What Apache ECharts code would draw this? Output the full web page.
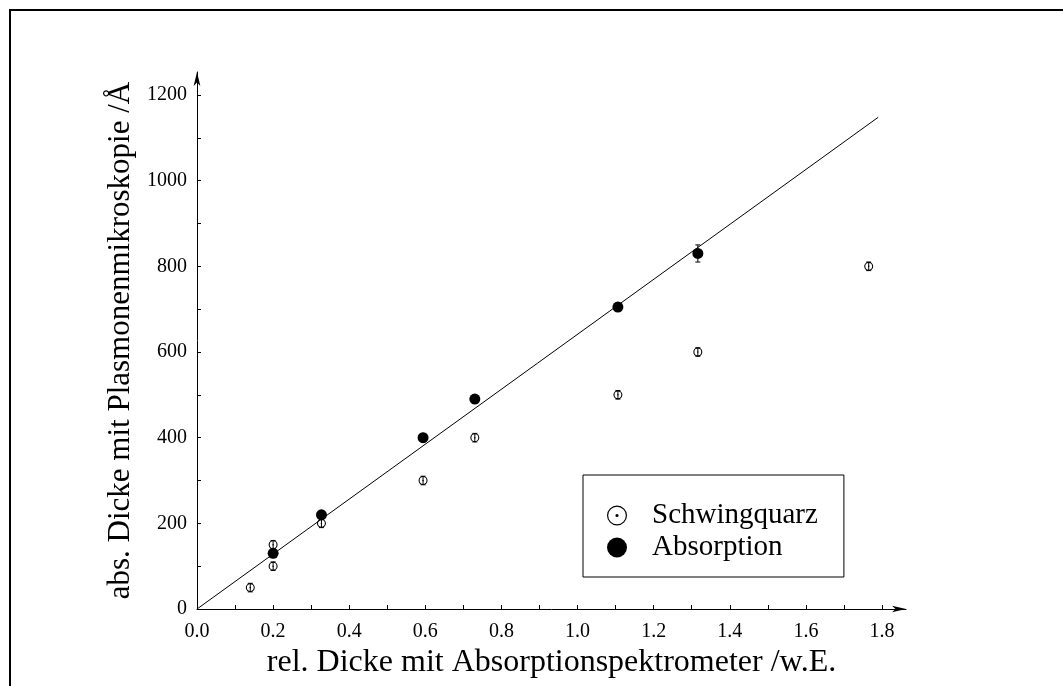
<!DOCTYPE html>
<html>
<head>
<meta charset="utf-8">
<script src="https://cdn.jsdelivr.net/npm/echarts@6/dist/echarts.min.js"></script>
<style>
  html, body { margin: 0; padding: 0; background: #fff; }
  #chart { width: 1063px; height: 686px; }
</style>
</head>
<body>
<div id="chart"></div>
<script>
// Schwingquarz (quartz crystal monitor) measurements
const quarzX   = [0.14, 0.20, 0.20, 0.327, 0.594, 0.73, 1.106, 1.316, 1.765];
const quarzY   = [50, 100, 150, 200, 300, 400, 500, 600, 800];
const quarzErr = [10, 10, 10, 10, 10, 10, 10, 10, 10];

// Absorption measurements
const absX   = [0.20, 0.327, 0.594, 0.73, 1.106, 1.316];
const absY   = [130, 220, 400, 490, 705, 830];
const absErr = [10, 10, 10, 10, 10, 20];

// Straight fit through the origin
const fitLine = [[0, 0], [1.79, 1148]];

// Tick positions and labelled values
const xTicks  = [0, 0.1, 0.2, 0.3, 0.4, 0.5, 0.6, 0.7, 0.8, 0.9, 1.0, 1.1, 1.2, 1.3, 1.4, 1.5, 1.6, 1.7, 1.8];
const xLabels = [0, 0.2, 0.4, 0.6, 0.8, 1.0, 1.2, 1.4, 1.6, 1.8];
const yTicks  = [0, 100, 200, 300, 400, 500, 600, 700, 800, 900, 1000, 1100, 1200];
const yLabels = [0, 200, 400, 600, 800, 1000, 1200];

const FONT = '"Liberation Serif", "DejaVu Serif", serif';

// Open circle with a centre dot (outer ring clockwise, inner ring counter-clockwise, dot)
function ringPath(t) {
  const r = 50 - t;
  return 'path://M50 0A50 50 0 1 1 50 100A50 50 0 1 1 50 0Z' +
    'M50 ' + (50 - r) + 'A' + r + ' ' + r + ' 0 1 0 50 ' + (50 + r) +
    'A' + r + ' ' + r + ' 0 1 0 50 ' + (50 - r) + 'Z' +
    'M50 42A8 8 0 1 1 50 58A8 8 0 1 1 50 42Z';
}
const quarzSymbol = ringPath(12);
const quarzLegendIcon = ringPath(6);

function zip(xs, ys) { return xs.map((x, i) => [x, ys[i]]); }

function errorBars(xs, ys, errs, z) {
  return {
    type: 'custom',
    silent: true,
    z: z,
    data: xs.map((x, i) => [x, ys[i] - errs[i], ys[i] + errs[i]]),
    renderItem: function (params, api) {
      const lo = api.coord([api.value(0), api.value(1)]);
      const hi = api.coord([api.value(0), api.value(2)]);
      const w = 2.5;
      const style = { stroke: '#000', lineWidth: 1, fill: null };
      return {
        type: 'group',
        children: [
          { type: 'line', shape: { x1: lo[0], y1: lo[1], x2: hi[0], y2: hi[1] }, style: style },
          { type: 'line', shape: { x1: lo[0] - w, y1: lo[1], x2: lo[0] + w, y2: lo[1] }, style: style },
          { type: 'line', shape: { x1: hi[0] - w, y1: hi[1], x2: hi[0] + w, y2: hi[1] }, style: style }
        ]
      };
    }
  };
}

const chart = echarts.init(document.getElementById('chart'), null, { renderer: 'canvas' });

chart.setOption({
  backgroundColor: '#fff',
  animation: false,
  textStyle: { fontFamily: FONT, color: '#000' },
  grid: { left: 197, right: 157, top: 72, bottom: 77, containLabel: false },
  xAxis: {
    type: 'value',
    min: 0,
    max: 1.863,
    name: 'rel. Dicke mit Absorptionspektrometer /w.E.',
    nameLocation: 'middle',
    nameGap: 38,
    nameTextStyle: { fontFamily: FONT, fontSize: 32, color: '#000' },
    axisLine: {
      show: true,
      symbol: ['none', 'arrow'],
      symbolSize: [5, 14],
      lineStyle: { color: '#000', width: 1 }
    },
    axisTick: { show: true, inside: true, length: 4, customValues: xTicks, lineStyle: { color: '#000', width: 1 } },
    axisLabel: {
      customValues: xLabels,
      margin: 13,
      fontFamily: FONT,
      fontSize: 20,
      color: '#000',
      formatter: v => v.toFixed(1)
    },
    splitLine: { show: false }
  },
  yAxis: {
    type: 'value',
    min: 0,
    max: 1253.7,
    name: 'abs. Dicke mit Plasmonenmikroskopie /Å',
    nameLocation: 'middle',
    nameGap: 58,
    nameTextStyle: { fontFamily: FONT, fontSize: 31, color: '#000' },
    axisLine: {
      show: true,
      symbol: ['none', 'arrow'],
      symbolSize: [5, 14],
      lineStyle: { color: '#000', width: 1 }
    },
    axisTick: { show: true, inside: true, length: 4, customValues: yTicks, lineStyle: { color: '#000', width: 1 } },
    axisLabel: {
      customValues: yLabels,
      margin: 10,
      fontFamily: FONT,
      fontSize: 20,
      color: '#000',
      formatter: v => String(v)
    },
    splitLine: { show: false }
  },
  legend: {
    orient: 'vertical',
    left: 583,
    top: 475,
    borderColor: '#000',
    borderWidth: 1,
    padding: [26, 26, 15, 24],
    itemGap: 3,
    itemWidth: 20,
    itemHeight: 20,
    textStyle: { fontFamily: FONT, fontSize: 29, color: '#000', lineHeight: 26, padding: [0, 0, 0, 20] },
    data: [
      { name: 'Schwingquarz', icon: quarzLegendIcon, itemStyle: { color: '#000', opacity: 1 } },
      { name: 'Absorption', icon: 'circle', itemStyle: { color: '#000', opacity: 1 } }
    ]
  },
  series: [
    {
      type: 'line',
      data: fitLine,
      showSymbol: false,
      silent: true,
      lineStyle: { color: '#000', width: 1 },
      z: 1
    },
    {
      name: 'Schwingquarz',
      type: 'scatter',
      data: zip(quarzX, quarzY),
      symbol: quarzSymbol,
      symbolSize: 9,
      itemStyle: { color: '#000', opacity: 1 },
      z: 2
    },
    errorBars(quarzX, quarzY, quarzErr, 3),
    errorBars(absX, absY, absErr, 3),
    {
      name: 'Absorption',
      type: 'scatter',
      data: zip(absX, absY),
      symbol: 'circle',
      symbolSize: 11,
      itemStyle: { color: '#000', opacity: 1 },
      z: 4
    }
  ],
  graphic: [
    {
      type: 'polyline',
      shape: { points: [[10, 686], [10, 10], [1063, 10]] },
      style: { stroke: '#000', lineWidth: 2, fill: null },
      silent: true
    }
  ]
});
</script>
</body>
</html>
